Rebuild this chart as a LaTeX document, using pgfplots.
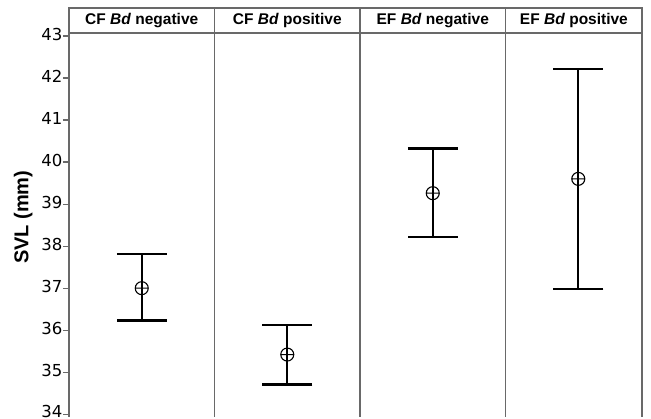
\documentclass[border=0pt]{standalone}
\usepackage{pgfplots}
\pgfplotsset{compat=1.18}
\usepackage{fontspec}
\setmainfont{Liberation Sans}
\newfontfamily\dejavu{DejaVu Sans}
\definecolor{framegray}{RGB}{105,105,105}
\begin{document}
\begin{tikzpicture}[x=1pt,y=1pt]
\useasboundingbox (0,0) rectangle (651,419);
\begin{axis}[
  at={(69pt,2pt)}, anchor=south west,
  scale only axis, width=573pt, height=384pt,
  xmin=0, xmax=3.938, ymin=33.935, ymax=43.071,
  clip=false,
  axis line style={framegray, line width=1.2pt},
  axis x line=none,
  axis y line*=left,
  ytick={34,35,36,37,38,39,40,41,42,43},
  yticklabel={\ifdim\tick pt<34.5pt\raisebox{2.5pt}{\pgfmathprintnumber{\tick}}\else\pgfmathprintnumber{\tick}\fi},
  xtick=\empty,
  tick align=outside,
  major tick length=6pt,
  tick style={framegray, line width=1.2pt},
  yticklabel style={font=\dejavu\fontsize{16.5}{17}\selectfont, text=black, inner sep=0.5pt, text depth=0pt, yshift=1.5pt},
  /pgf/number format/assume math mode=true,
]
% frame
\draw[framegray, line width=1.2pt] (axis cs:0,33.935) -- (axis cs:0,43.666) -- (axis cs:3.938,43.666) -- (axis cs:3.938,33.935);
\draw[framegray, line width=1.2pt] (axis cs:0,43.071) -- (axis cs:3.938,43.071);
\draw[framegray, line width=1.2pt] (axis cs:1,33.935) -- (axis cs:1,43.666);
\draw[framegray, line width=1.2pt] (axis cs:2,33.935) -- (axis cs:2,43.666);
\draw[framegray, line width=1.2pt] (axis cs:3,33.935) -- (axis cs:3,43.666);
% strip labels
\node[font=\bfseries\fontsize{15.5}{16}\selectfont] at (axis cs:0.5,43.37) {CF \textit{Bd} negative};
\node[font=\bfseries\fontsize{15.5}{16}\selectfont] at (axis cs:1.5,43.37) {CF \textit{Bd} positive};
\node[font=\bfseries\fontsize{15.5}{16}\selectfont] at (axis cs:2.5,43.37) {EF \textit{Bd} negative};
\node[font=\bfseries\fontsize{15.5}{16}\selectfont] at (axis cs:3.47,43.37) {EF \textit{Bd} positive};
% y label
\node[rotate=90, font=\bfseries\fontsize{20}{21}\selectfont] at (rel axis cs:-0.080,0.52) {SVL (mm)};
% data
\addplot[black, mark=none, draw=none,
  error bars/.cd, y dir=both, y explicit,
  error bar style={black, line width=2.3pt},
  error mark options={black, line width=2.3pt, mark size=25pt, rotate=90}]
  table[x=x, y=y, y error plus=ep, y error minus=em] {
x    y      ep    em
0.5  37.00  0.82  0.77
1.5  35.42  0.71  0.71
2.5  39.26  1.06  1.04
3.5  39.60  2.61  2.62
};
\addplot[only marks, mark=oplus, mark size=6.5pt, mark options={black, line width=1.1pt, fill=white}]
  table[x=x, y=y] {
x    y
0.5  37.00
1.5  35.42
2.5  39.26
3.5  39.60
};
\end{axis}
\end{tikzpicture}
\end{document}
